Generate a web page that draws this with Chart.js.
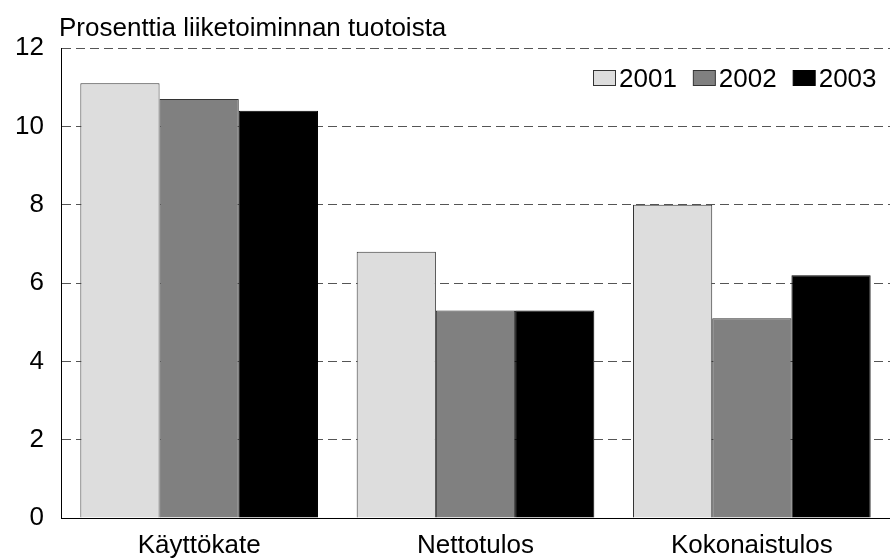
<!DOCTYPE html>
<html><head><meta charset="utf-8">
<script src="https://cdn.jsdelivr.net/npm/chart.js@4"></script>
<style>html,body{margin:0;padding:0;background:#fff}#wrap{width:890px;height:559px}</style>
</head><body><div id="wrap"><canvas id="c" width="890" height="559"></canvas></div>
<script>
const categories = ["Käyttökate", "Nettotulos", "Kokonaistulos"];
const seriesNames = ["2001", "2002", "2003"];
const values2001 = [11.1, 6.8, 8.0];
const values2002 = [10.7, 5.3, 5.1];
const values2003 = [10.4, 5.3, 6.2];
const yTicks = [0, 2, 4, 6, 8, 10, 12];
const titleText = "Prosenttia liiketoiminnan tuotoista";

const fills = ["#dddddd", "#808080", "#000000"];
const borders = ["#333333", "#333333", "#000000"];
const FONT = "'Liberation Sans', Arial, sans-serif";

const extras = {
  id: "extras",
  afterDraw(chart) {
    const ctx = chart.ctx, a = chart.chartArea;
    ctx.save();
    ctx.fillStyle = "#000";
    ctx.font = "26px " + FONT;
    ctx.textBaseline = "alphabetic";
    ctx.textAlign = "left";
    ctx.fillText(titleText, a.left - 2, 36);
    // legend
    let x = 593, y = 78;
    chart.data.datasets.forEach((ds, i) => {
      ctx.fillStyle = ds.backgroundColor;
      ctx.fillRect(x + 0.5, y - 7.5, 22, 15);
      ctx.strokeStyle = ds.borderColor;
      ctx.lineWidth = 1;
      ctx.strokeRect(x + 0.5, y - 7.5, 22, 15);
      ctx.fillStyle = "#000";
      ctx.textBaseline = "alphabetic";
      ctx.fillText(ds.label, x + 26, y + 9);
      x += 26 + ctx.measureText(ds.label).width + 16;
    });
    ctx.restore();
  }
};

new Chart(document.getElementById("c"), {
  type: "bar",
  data: {
    labels: categories,
    datasets: [values2001, values2002, values2003].map((v, i) => ({
      label: seriesNames[i],
      data: v,
      backgroundColor: fills[i],
      borderColor: borders[i],
      borderWidth: 1,
      barPercentage: 1.0,
      categoryPercentage: 0.86
    }))
  },
  options: {
    responsive: false,
    animation: false,
    layout: { padding: { top: 48, right: 0, left: 0, bottom: 0 } },
    plugins: { legend: { display: false }, title: { display: false }, tooltip: { enabled: false } },
    scales: {
      x: {
        grid: { display: false, drawTicks: false },
        border: { display: true, color: "#000", width: 1 },
        ticks: { color: "#000", font: { family: FONT, size: 26 }, padding: 12, maxRotation: 0 },
        afterFit(s) { s.height = 41; }
      },
      y: {
        min: 0, max: 12,
        afterBuildTicks(s) { s.ticks = yTicks.map(v => ({ value: v })); },
        grid: {
          color: (c) => c.tick && c.tick.value === 0 ? "rgba(0,0,0,0)" : "#555555",
          lineWidth: 1, drawTicks: false
        },
        border: { display: true, color: "#000", width: 1, dash: [9, 5] },
        ticks: { color: "#000", font: { family: FONT, size: 26 }, padding: 17 },
        afterFit(s) { s.width = 61; }
      }
    }
  },
  plugins: [extras]
});
</script></body></html>
